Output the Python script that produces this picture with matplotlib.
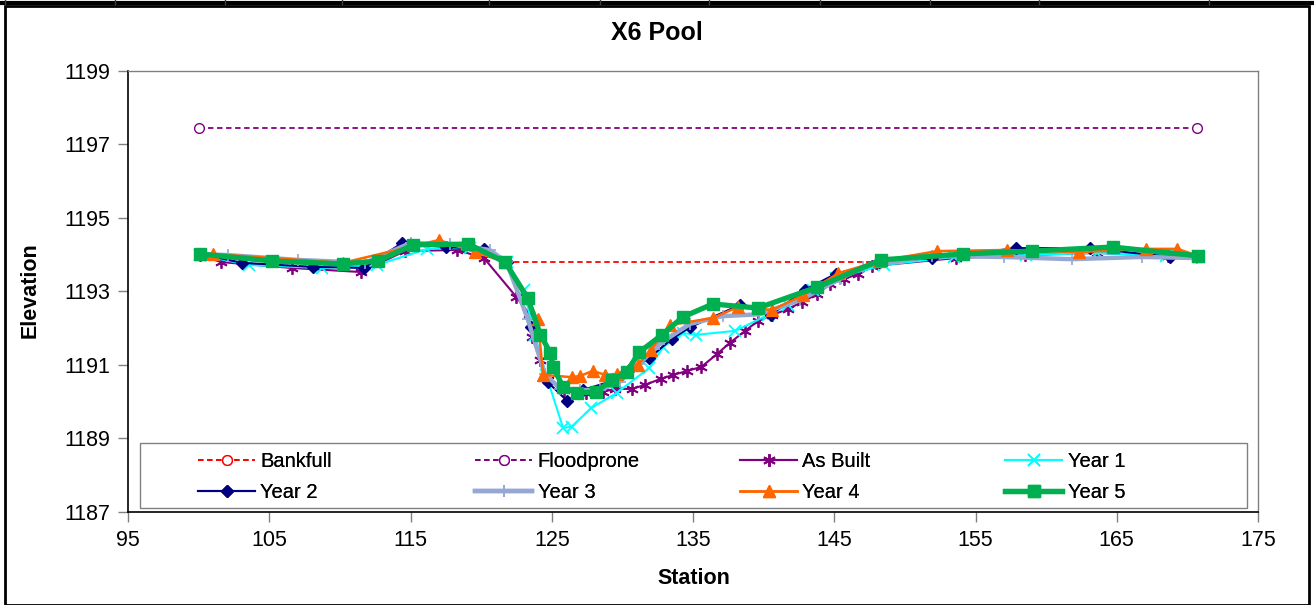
import matplotlib
matplotlib.use("Agg")
import matplotlib.pyplot as plt
from matplotlib.lines import Line2D
from matplotlib.patches import Rectangle

plt.rcParams['font.family'] = ['Liberation Sans', 'DejaVu Sans']

# survey data, station (ft) vs elevation (ft)
bankfull_x = [121.7, 148.2]
bankfull_y = [1193.80, 1193.80]

floodprone_x = [100.0, 170.7]
floodprone_y = [1197.45, 1197.45]

asbuilt_x = [100.1, 101.6, 106.6, 111.5, 114.6, 118.3, 120.2, 122.5, 123.4, 123.6,
             124.2, 124.7, 125.9, 127.4, 128.6, 129.5, 130.7, 131.6, 132.7, 133.6,
             134.6, 135.6, 136.7, 137.6, 138.7, 139.6, 140.6, 141.7, 142.7, 143.8,
             144.7, 145.7, 146.7, 147.7, 153.6, 158.5, 163.6, 168.6, 170.75]
asbuilt_y = [1193.99, 1193.80, 1193.64, 1193.53, 1194.10, 1194.13, 1193.91, 1192.85, 1192.39, 1191.77,
             1191.14, 1190.59, 1190.32, 1190.24, 1190.27, 1190.35, 1190.35, 1190.46, 1190.62, 1190.73,
             1190.84, 1190.95, 1191.30, 1191.60, 1191.93, 1192.20, 1192.36, 1192.52, 1192.71, 1192.93,
             1193.20, 1193.34, 1193.48, 1193.69, 1193.91, 1193.99, 1194.05, 1193.97, 1193.97]

year1_x = [100.1, 103.6, 108.7, 112.6, 116.2, 119.2, 121.8, 123.0, 123.8, 124.6, 125.8, 126.4,
           127.8, 129.6, 131.9, 132.9, 134.3, 135.2, 138.0, 140.3, 141.7, 143.5, 145.1, 148.5,
           153.5, 158.6, 163.6, 168.5, 170.75]
year1_y = [1193.99, 1193.72, 1193.64, 1193.72, 1194.16, 1194.19, 1193.80, 1193.04, 1191.82, 1190.73,
           1189.29, 1189.32, 1189.83, 1190.24, 1190.92, 1191.49, 1191.87, 1191.82, 1191.93, 1192.36,
           1192.63, 1193.04, 1193.37, 1193.72, 1193.94, 1193.99, 1194.05, 1193.97, 1193.97]

year2_x = [100.1, 103.1, 108.1, 111.7, 114.4, 117.5, 120.2, 121.8, 123.5, 124.7, 126.1, 127.2,
           129.5, 130.5, 131.9, 133.5, 134.8, 138.3, 140.5, 142.9, 145.1, 148.2, 151.9, 157.9,
           163.1, 168.8, 170.75]
year2_y = [1194.02, 1193.78, 1193.67, 1193.64, 1194.32, 1194.21, 1194.16, 1193.80, 1192.03, 1190.54,
           1190.02, 1190.32, 1190.59, 1190.86, 1191.19, 1191.71, 1192.03, 1192.63, 1192.36, 1193.04,
           1193.48, 1193.80, 1193.91, 1194.18, 1194.18, 1193.94, 1193.97]

year3_x = [100.1, 102.1, 107.0, 111.8, 115.0, 117.8, 120.6, 121.8, 123.3, 124.5, 125.6, 127.0,
           128.4, 129.8, 131.2, 132.6, 134.8, 137.1, 139.7, 142.6, 145.4, 147.0, 151.9, 157.0,
           161.8, 166.8, 170.7]
year3_y = [1194.02, 1193.99, 1193.86, 1193.78, 1194.32, 1194.29, 1194.13, 1193.80, 1192.25, 1190.76,
           1190.35, 1190.32, 1190.32, 1190.54, 1191.03, 1191.57, 1192.12, 1192.33, 1192.38, 1192.77,
           1193.34, 1193.67, 1193.97, 1193.94, 1193.88, 1193.94, 1193.91]

year4_x = [100.1, 101.0, 110.2, 117.0, 119.6, 121.7, 124.0, 124.4, 126.4, 127.0, 127.9, 128.8,
           129.6, 131.1, 132.0, 133.4, 136.4, 138.2, 140.6, 142.8, 145.3, 148.2, 152.3, 157.2,
           162.3, 167.1, 169.3, 170.75]
year4_y = [1194.02, 1194.02, 1193.78, 1194.40, 1194.07, 1193.80, 1192.25, 1190.73, 1190.67, 1190.70,
           1190.84, 1190.73, 1190.76, 1191.00, 1191.41, 1192.09, 1192.28, 1192.58, 1192.50, 1192.90,
           1193.50, 1193.83, 1194.10, 1194.13, 1194.07, 1194.16, 1194.16, 1193.97]

year5_x = [100.1, 105.2, 110.2, 112.7, 115.2, 119.1, 121.7, 123.3, 124.2, 124.9, 125.1, 125.8,
           126.8, 128.1, 129.3, 130.3, 131.2, 132.8, 134.3, 136.4, 139.6, 143.8, 148.3, 154.1,
           159.0, 164.7, 170.75]
year5_y = [1194.02, 1193.83, 1193.75, 1193.83, 1194.27, 1194.29, 1193.80, 1192.82, 1191.82, 1191.33,
           1190.95, 1190.40, 1190.24, 1190.27, 1190.59, 1190.81, 1191.35, 1191.82, 1192.31, 1192.66,
           1192.55, 1193.12, 1193.86, 1194.02, 1194.10, 1194.21, 1193.97]

x_ticks = [95, 105, 115, 125, 135, 145, 155, 165, 175]
y_ticks = [1187, 1189, 1191, 1193, 1195, 1197, 1199]

fig = plt.figure(figsize=(13.14, 6.05), dpi=100)
ax = fig.add_axes([128 / 1314, 1 - 512 / 605, 1130 / 1314, 441 / 605])

lines = []
lines += ax.plot(bankfull_x, bankfull_y, color='#FF0000', ls=(0, (3, 2)), lw=1.3,
                 marker='o', mfc='white', mec='#FF0000', ms=7, label='Bankfull')
lines += ax.plot(floodprone_x, floodprone_y, color='#800080', ls=(0, (3, 2)), lw=1.3,
                 marker='o', mfc='white', mec='#800080', ms=7, label='Floodprone')
lines += ax.plot(asbuilt_x, asbuilt_y, color='#800080', lw=1.5, marker=(6, 2, 0), ms=9,
                 mew=1.3, label='As Built')
lines += ax.plot(year1_x, year1_y, color='#00FFFF', lw=1.5, marker='x', ms=8, mew=1.3,
                 label='Year 1')
lines += ax.plot(year2_x, year2_y, color='#000080', lw=1.5, marker='D', ms=6.5,
                 label='Year 2')
lines += ax.plot(year3_x, year3_y, color='#95A8D4', lw=3.2, marker='+', ms=9, mew=1.2,
                 label='Year 3')
lines += ax.plot(year4_x, year4_y, color='#FF6600', lw=1.8, marker='^', ms=8.5,
                 label='Year 4')
lines += ax.plot(year5_x, year5_y, color='#00B050', lw=3.8, marker='s', ms=8.5,
                 label='Year 5')

ax.set_xlim(95, 175)
ax.set_ylim(1187, 1199)
ax.set_xticks(x_ticks)
ax.set_yticks(y_ticks)
ax.tick_params(labelsize=15.5, length=7, width=1, color='#808080', pad=6)
for side in ['left', 'bottom']:
    ax.spines[side].set_color('black')
    ax.spines[side].set_linewidth(1.2)
for side in ['top', 'right']:
    ax.spines[side].set_color('#808080')
    ax.spines[side].set_linewidth(1.0)

# legend: box plus four evenly spaced columns, filled row by row
ax.add_patch(Rectangle((140 / 1314, 1 - 508 / 605), 1107 / 1314, 65 / 605,
                       transform=fig.transFigure, fill=True, fc='white',
                       ec='#808080', lw=1.0, zorder=5))
for col, px in enumerate([188, 465, 730, 995]):
    pair = [lines[col], lines[col + 4]]
    leg = fig.legend(handles=pair, loc='center left',
                     bbox_to_anchor=(px / 1314, 1 - 477 / 605), frameon=False,
                     fontsize=14.5, handlelength=2.85, numpoints=1,
                     borderpad=0, labelspacing=0.6, handletextpad=0.25)
    ax.add_artist(leg)

fig.text(0.5, 1 - 33 / 605, 'X6 Pool', ha='center', va='center',
         fontsize=18, fontweight='bold')
fig.text(694 / 1314, 1 - 578 / 605, 'Station', ha='center', va='center',
         fontsize=15.5, fontweight='bold')
fig.text(30 / 1314, 1 - 290 / 605, 'Elevation', ha='center', va='center',
         rotation=90, fontsize=15.5, fontweight='bold')

# outer chart frame and the sheet row above it
fig.add_artist(Rectangle((5 / 1314, 0.5 / 605), 1304 / 1314, 599 / 605,
                         transform=fig.transFigure, fill=False, ec='black', lw=2))
fig.add_artist(Line2D([0, 1], [1 - 3 / 605, 1 - 3 / 605], transform=fig.transFigure,
                      color='black', lw=3))
for px in [5, 115, 225, 342, 489, 600, 709, 820, 930, 1039, 1209]:
    fig.add_artist(Line2D([px / 1314, px / 1314], [1, 1 - 4 / 605],
                          transform=fig.transFigure, color='#404040', lw=1))

fig.savefig('out.png', dpi=100)
